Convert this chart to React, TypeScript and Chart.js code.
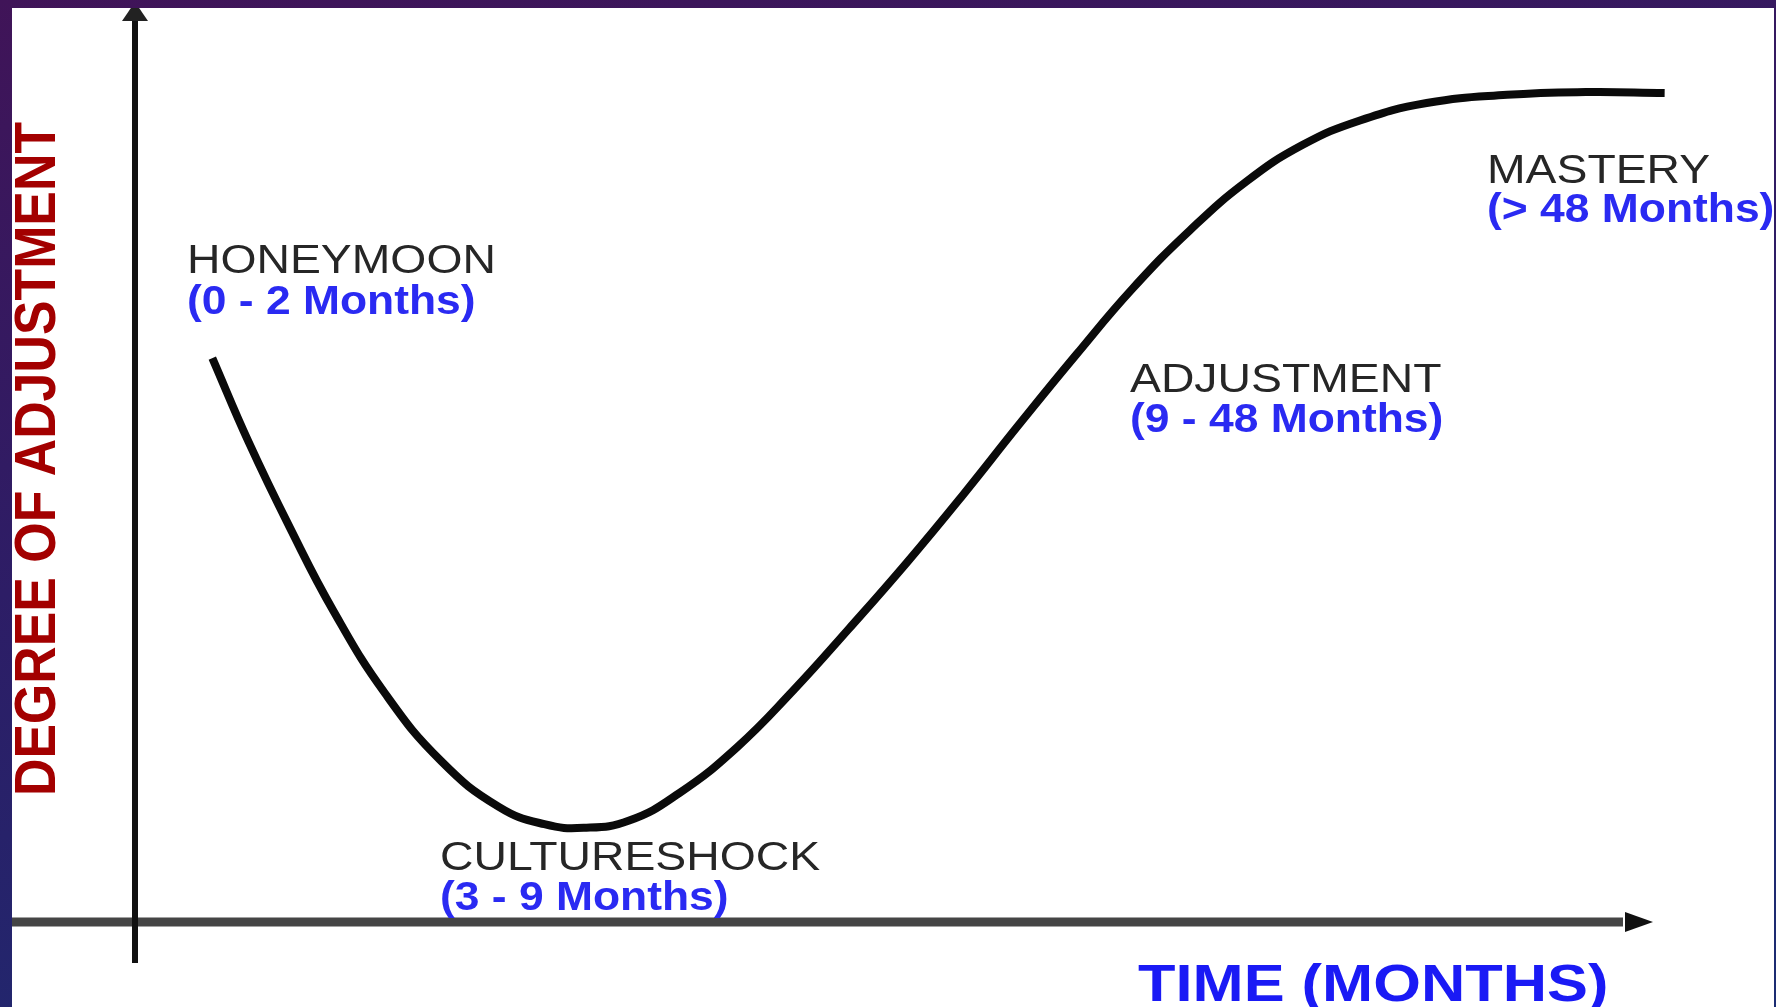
import React, { useEffect, useRef } from "react";
import { Chart, registerables } from "chart.js";

Chart.register(...registerables);

// Time axis (conceptual months scale, 0..100) and degree of adjustment (0..100)
const timeValues = [5.1, 7.5, 10.2, 13.1, 16.5, 20.2, 24.0, 27.0, 29.6, 32.6, 35.9, 39.7, 43.4, 47.1, 50.9, 54.6, 58.3, 62.1, 65.8, 69.6, 73.3, 77.0, 80.8, 85.2, 90.5, 95.7, 100.9];
const adjustmentValues = [61.7, 52.5, 43.2, 34.0, 25.0, 17.6, 12.6, 10.7, 10.3, 11.1, 14.1, 19.1, 25.3, 32.1, 39.3, 46.7, 54.4, 62.1, 69.3, 75.7, 81.0, 85.0, 87.7, 89.6, 90.5, 90.8, 90.7];

const phaseNames = ["HONEYMOON", "CULTURESHOCK", "ADJUSTMENT", "MASTERY"];
const phaseRanges = ["(0 - 2 Months)", "(3 - 9 Months)", "(9 - 48 Months)", "(> 48 Months)"];
const xAxisTitle = "TIME (MONTHS)";
const yAxisTitle = "DEGREE OF ADJUSTMENT";

const FONT = '"Liberation Sans", Arial, Helvetica, sans-serif';

function drawText(
  ctx: CanvasRenderingContext2D,
  text: string,
  x: number,
  y: number,
  font: string,
  color: string,
  sx: number
) {
  ctx.save();
  ctx.translate(x, y);
  ctx.scale(sx, 1);
  ctx.font = font;
  ctx.fillStyle = color;
  ctx.textAlign = "left";
  ctx.textBaseline = "alphabetic";
  ctx.fillText(text, 0, 0);
  ctx.restore();
}

const axesPlugin = {
  id: "arrowAxes",
  beforeDatasetsDraw(chart: any) {
    const ctx: CanvasRenderingContext2D = chart.ctx;
    const xs = chart.scales.x;
    const ys = chart.scales.y;
    const x0 = xs.getPixelForValue(xs.min);
    const xEnd = xs.getPixelForValue(xs.max);
    const y0 = ys.getPixelForValue(ys.min);
    const yTop = ys.getPixelForValue(ys.max);
    ctx.save();
    // horizontal axis
    ctx.strokeStyle = "#454545";
    ctx.lineWidth = 9;
    ctx.beginPath();
    ctx.moveTo(0, y0);
    ctx.lineTo(xEnd - 28, y0);
    ctx.stroke();
    ctx.fillStyle = "#111";
    ctx.beginPath();
    ctx.moveTo(xEnd + 2, y0);
    ctx.lineTo(xEnd - 26, y0 - 10);
    ctx.lineTo(xEnd - 26, y0 + 10);
    ctx.closePath();
    ctx.fill();
    // vertical axis
    ctx.strokeStyle = "#111";
    ctx.lineWidth = 6;
    ctx.beginPath();
    ctx.moveTo(x0, y0 + 41);
    ctx.lineTo(x0, yTop + 10);
    ctx.stroke();
    ctx.fillStyle = "#222";
    ctx.beginPath();
    ctx.moveTo(x0, yTop - 6);
    ctx.lineTo(x0 - 13, yTop + 13);
    ctx.lineTo(x0 + 13, yTop + 13);
    ctx.closePath();
    ctx.fill();
    ctx.restore();
  },
  afterDraw(chart: any) {
    const ctx: CanvasRenderingContext2D = chart.ctx;
    const nameFont = `41px ${FONT}`;
    const rangeFont = `bold 40px ${FONT}`;
    const black = "#262626";
    const blue = "#2a2af2";
    const spots = [
      [187, 273, 314],
      [440, 870, 910],
      [1130, 392, 432],
      [1487, 183, 222],
    ];
    phaseNames.forEach((name, i) => {
      const [x, yName, yRange] = spots[i];
      drawText(ctx, name, x, yName, nameFont, black, 1.13);
      drawText(ctx, phaseRanges[i], x, yRange, rangeFont, blue, 1.11);
    });
    // x axis title
    drawText(ctx, xAxisTitle, 1138, 1001, `bold 52px ${FONT}`, "#1a1af5", 1.18);
    // y axis title (rotated)
    ctx.save();
    ctx.translate(34, 459);
    ctx.rotate(-Math.PI / 2);
    ctx.scale(0.894, 1);
    ctx.font = `bold 58px ${FONT}`;
    ctx.fillStyle = "#a30000";
    ctx.textAlign = "center";
    ctx.textBaseline = "alphabetic";
    ctx.fillText(yAxisTitle, 0, 21);
    ctx.restore();
  },
};

export default function App() {
  const canvasRef = useRef<HTMLCanvasElement | null>(null);

  useEffect(() => {
    document.body.style.margin = "0";
    const canvas = canvasRef.current;
    if (!canvas) return;
    const points = timeValues.map((t, i) => ({ x: t, y: adjustmentValues[i] }));
    const chart = new Chart(canvas, {
      type: "line",
      data: {
        datasets: [
          {
            data: points,
            borderColor: "#0a0a0a",
            borderWidth: 8,
            pointRadius: 0,
            tension: 0.45,
            fill: false,
            clip: false as any,
          } as any,
        ],
      },
      options: {
        animation: false,
        responsive: false,
        devicePixelRatio: 1,
        layout: { padding: { left: 135, right: 125, top: 8, bottom: 85 } },
        scales: {
          x: { type: "linear", min: 0, max: 100, display: false },
          y: { type: "linear", min: 0, max: 100, display: false },
        },
        plugins: {
          legend: { display: false },
          tooltip: { enabled: false },
          title: { display: false },
        },
        events: [],
      },
      plugins: [axesPlugin],
    });
    return () => chart.destroy();
  }, []);

  return (
    <div
      style={{
        position: "fixed",
        left: 0,
        top: 0,
        width: 1776,
        height: 1007,
        overflow: "hidden",
        background: "linear-gradient(170deg, #401458 0%, #2d1d66 45%, #1b2c72 100%)",
      }}
    >
      <div
        style={{
          position: "absolute",
          left: 12,
          top: 8,
          width: 1762,
          height: 999,
          background: "#ffffff",
          overflow: "hidden",
        }}
      >
        <canvas
          ref={canvasRef}
          width={1776}
          height={1007}
          style={{ position: "absolute", left: -12, top: -8, width: 1776, height: 1007 }}
        />
      </div>
    </div>
  );
}
